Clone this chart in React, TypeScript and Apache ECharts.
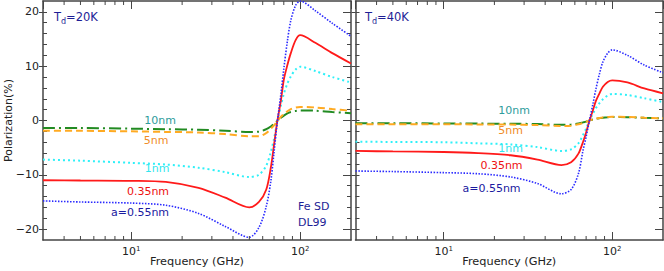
import React, { useEffect, useRef } from 'react';
import * as echarts from 'echarts';

// ---- data ----
const FREQ = [3, 5, 10, 16, 25, 36, 50, 57, 63, 67, 70, 73, 77, 80, 84, 88, 94, 100, 123, 155, 200];
const MINOR_FREQ = [4, 5, 6, 7, 8, 9, 20, 30, 40, 50, 60, 70, 80, 90];
const Y_MAJOR = [-20, -10, 0, 10, 20];
const Y_MINOR = [-20, -18, -16, -14, -12, -10, -8, -6, -4, -2, 0, 2, 4, 6, 8, 10, 12, 14, 16, 18, 20];
const X_MIN = 3;
const X_MAX = 200;
const Y_MIN = -22;
const Y_MAX = 22;

// Td = 20K
const T20_A055 = [-14.8, -15.0, -15.2, -15.6, -17.1, -19.5, -21.5, -19.7, -15.8, -11.2, -5.9, -0.6, 5.0, 9.5, 14.6, 18.4, 21.2, 22.0, 20.2, 17.9, 15.5];
const T20_A035 = [-11.0, -11.05, -11.1, -11.3, -12.4, -14.2, -16.0, -15.0, -12.7, -8.7, -4.5, -0.4, 3.8, 7.5, 10.2, 12.4, 14.8, 15.7, 14.3, 12.4, 10.5];
const T20_A1 = [-7.2, -7.4, -7.8, -8.1, -8.7, -9.5, -10.4, -10.0, -8.3, -5.8, -3.4, -0.4, 2.8, 4.9, 6.8, 8.1, 9.4, 9.9, 9.1, 8.0, 7.0];
const T20_A5 = [-1.9, -1.9, -2.0, -2.1, -2.2, -2.5, -2.9, -2.9, -2.3, -1.5, -0.9, -0.2, 0.7, 1.2, 1.7, 2.1, 2.4, 2.5, 2.4, 2.1, 1.8];
const T20_A10 = [-1.4, -1.4, -1.5, -1.6, -1.7, -1.9, -2.1, -2.05, -1.6, -1.1, -0.6, -0.1, 0.5, 0.9, 1.3, 1.55, 1.75, 1.85, 1.8, 1.55, 1.35];

// Td = 40K
const T40_A055 = [-9.3, -9.4, -9.6, -9.8, -10.4, -11.6, -13.5, -12.7, -9.8, -5.6, -3.0, -0.2, 3.2, 5.8, 8.6, 10.8, 12.4, 13.0, 12.0, 10.2, 8.8];
const T40_A035 = [-5.6, -5.7, -5.8, -6.0, -6.4, -7.2, -8.2, -7.7, -6.1, -4.0, -2.2, -0.2, 2.0, 3.6, 5.0, 6.2, 7.1, 7.4, 7.0, 5.9, 5.0];
const T40_A1 = [-3.9, -3.95, -4.0, -4.2, -4.4, -4.9, -5.6, -5.3, -4.2, -2.7, -1.5, -0.1, 1.3, 2.3, 3.2, 3.9, 4.6, 4.9, 4.7, 4.1, 3.4];
const T40_A5 = [-0.7, -0.7, -0.7, -0.72, -0.75, -0.85, -1.0, -0.95, -0.7, -0.45, -0.25, 0, 0.22, 0.35, 0.48, 0.57, 0.65, 0.7, 0.65, 0.5, 0.4];
const T40_A10 = [-0.5, -0.5, -0.55, -0.57, -0.6, -0.65, -0.8, -0.75, -0.55, -0.35, -0.2, 0, 0.2, 0.32, 0.43, 0.52, 0.6, 0.65, 0.6, 0.5, 0.4];

const LABEL_10 = '10nm';
const LABEL_5 = '5nm';
const LABEL_1 = '1nm';
const LABEL_035 = '0.35nm';
const LABEL_055 = 'a=0.55nm';

// ---- styles ----
const FONT = 'DejaVu Sans';
const AXIS_COLOR = '#454545';
const TEXT_COLOR = '#222222';
const NAVY = '#1e1e96';

const LINE_STYLES = {
  a055: { color: '#2a2aff', width: 1.6, type: [1.5, 1.5] as any },
  a035: { color: '#ff1a1a', width: 1.8, type: 'solid' as any },
  a1: { color: '#2ef0f8', width: 2, type: [2, 3] as any },
  a5: { color: '#ffaa22', width: 2, type: [7, 4] as any },
  a10: { color: '#228b22', width: 2, type: [12, 4, 2, 4] as any },
};

function xLabelFormatter(v: number) {
  const l = Math.log10(v);
  if (Math.abs(l - Math.round(l)) > 1e-6) return '';
  return `{b|10}{s|${Math.round(l)}}`;
}
function yLabelFormatter(v: number) {
  return v < 0 ? '\u2212' + Math.abs(v) : String(v);
}

function makeXAxes(gridIndex: number) {
  const common = {
    type: 'log' as const,
    logBase: 10,
    min: X_MIN,
    max: X_MAX,
    gridIndex,
    splitLine: { show: false },
    axisLine: { show: true, onZero: false, lineStyle: { color: AXIS_COLOR, width: 1.5 } },
    axisTick: { show: true, inside: true, length: 8, lineStyle: { color: AXIS_COLOR, width: 1 } },
  };
  return [
    {
      ...common,
      position: 'bottom',
      name: 'Frequency (GHz)',
      nameLocation: 'middle',
      nameGap: 16,
      nameMoveOverlap: false,
      nameTextStyle: { fontFamily: FONT, fontSize: 11.3, color: TEXT_COLOR },
      axisLabel: {
        show: true,
        margin: 5,
        formatter: xLabelFormatter,
        showMinLabel: false,
        showMaxLabel: false,
        rich: {
          b: { fontFamily: FONT, fontSize: 11, lineHeight: 12, color: TEXT_COLOR, verticalAlign: 'middle' },
          s: { fontFamily: FONT, fontSize: 7, lineHeight: 7, color: TEXT_COLOR, verticalAlign: 'top' },
        },
      },
    },
    {
      ...common,
      position: 'top',
      axisLabel: { show: false },
    },
  ];
}

function makeYAxes(gridIndex: number, withLabels: boolean) {
  const base = {
    type: 'value' as const,
    min: Y_MIN,
    max: Y_MAX,
    gridIndex,
    splitLine: { show: false },
  };
  return [
    {
      ...base,
      position: 'left',
      axisLine: { show: true, onZero: false, lineStyle: { color: AXIS_COLOR, width: 1.5 } },
      axisTick: { show: true, inside: false, length: 4, customValues: Y_MAJOR, lineStyle: { color: AXIS_COLOR, width: 1 } },
      axisLabel: {
        show: withLabels,
        customValues: Y_MAJOR,
        margin: 4,
        formatter: yLabelFormatter,
        fontFamily: FONT,
        fontSize: 11,
        color: TEXT_COLOR,
      },
      ...(withLabels
        ? {
            name: 'Polarization(%)',
            nameLocation: 'middle',
            nameGap: 29,
            nameMoveOverlap: false,
            nameTextStyle: { fontFamily: FONT, fontSize: 11, color: TEXT_COLOR },
          }
        : {}),
    },
    {
      ...base,
      position: 'left',
      axisLine: { show: false, onZero: false },
      axisTick: { show: true, inside: true, length: 4, customValues: Y_MINOR, lineStyle: { color: AXIS_COLOR, width: 1 } },
      axisLabel: { show: false },
    },
    {
      ...base,
      position: 'right',
      axisLine: { show: true, onZero: false, lineStyle: { color: AXIS_COLOR, width: 1.5 } },
      axisTick: { show: true, inside: true, length: 8, customValues: Y_MAJOR, lineStyle: { color: AXIS_COLOR, width: 1 } },
      axisLabel: { show: false },
    },
    {
      ...base,
      position: 'right',
      axisLine: { show: false, onZero: false },
      axisTick: { show: true, inside: true, length: 4, customValues: Y_MINOR, lineStyle: { color: AXIS_COLOR, width: 1 } },
      axisLabel: { show: false },
    },
  ];
}

function makeLine(name: string, values: number[], style: any, xAxisIndex: number, yAxisIndex: number) {
  return {
    type: 'line',
    name,
    xAxisIndex,
    yAxisIndex,
    data: FREQ.map((f, i) => [f, values[i]]),
    showSymbol: false,
    symbol: 'none',
    smooth: 0.3,
    lineStyle: { color: style.color, width: style.width, type: style.type },
    itemStyle: { color: style.color },
    silent: true,
  };
}

function minorTickSeries(xAxisIndex: number, yAxisIndex: number) {
  return {
    type: 'custom',
    xAxisIndex,
    yAxisIndex,
    silent: true,
    clip: false,
    z: 10,
    data: MINOR_FREQ.map((f) => [f, 0]),
    encode: { x: 0, y: 1 },
    renderItem: (_params: any, api: any) => {
      const f = api.value(0);
      const b = api.coord([f, Y_MIN]);
      const t = api.coord([f, Y_MAX]);
      const st = { stroke: AXIS_COLOR, lineWidth: 1 };
      return {
        type: 'group',
        children: [
          { type: 'line', shape: { x1: b[0], y1: b[1], x2: b[0], y2: b[1] - 4 }, style: st },
          { type: 'line', shape: { x1: t[0], y1: t[1], x2: t[0], y2: t[1] + 4 }, style: st },
        ],
      };
    },
  };
}

function label(text: string, x: number, y: number, color: string) {
  return {
    type: 'text',
    x,
    y,
    silent: true,
    z: 20,
    style: {
      text,
      fill: color,
      fontFamily: FONT,
      fontSize: 11,
      align: 'center',
      verticalAlign: 'middle',
      textAlign: 'center',
      textVerticalAlign: 'middle',
    },
  };
}

function tdLabel(temp: string, x: number, y: number) {
  return {
    type: 'text',
    x,
    y,
    silent: true,
    z: 20,
    style: {
      text: `{a|T}{b|d}{a|=${temp}}`,
      fill: NAVY,
      fontFamily: FONT,
      fontSize: 11.5,
      align: 'left',
      verticalAlign: 'middle',
      textAlign: 'left',
      textVerticalAlign: 'middle',
      rich: {
        a: { fontFamily: FONT, fontSize: 11.5, lineHeight: 16, verticalAlign: 'middle', fill: NAVY },
        b: { fontFamily: FONT, fontSize: 8, lineHeight: 8, verticalAlign: 'bottom', fill: NAVY },
      },
    },
  };
}

export default function App() {
  const ref = useRef<HTMLDivElement>(null);

  useEffect(() => {
    document.body.style.margin = '0';
    if (!ref.current) return;
    const chart = echarts.init(ref.current, undefined, { renderer: 'svg' });

    const option: any = {
      animation: false,
      backgroundColor: '#ffffff',
      textStyle: { fontFamily: FONT },
      grid: [
        { left: 43, top: 1, width: 308, height: 239, containLabel: false, outerBoundsMode: 'none' },
        { left: 355.5, top: 1, width: 307.5, height: 239, containLabel: false, outerBoundsMode: 'none' },
      ],
      xAxis: [...makeXAxes(0), ...makeXAxes(1)],
      yAxis: [...makeYAxes(0, true), ...makeYAxes(1, false)],
      series: [
        makeLine(LABEL_10, T20_A10, LINE_STYLES.a10, 0, 0),
        makeLine(LABEL_5, T20_A5, LINE_STYLES.a5, 0, 0),
        makeLine(LABEL_1, T20_A1, LINE_STYLES.a1, 0, 0),
        makeLine(LABEL_035, T20_A035, LINE_STYLES.a035, 0, 0),
        makeLine(LABEL_055, T20_A055, LINE_STYLES.a055, 0, 0),
        makeLine(LABEL_10, T40_A10, LINE_STYLES.a10, 2, 4),
        makeLine(LABEL_5, T40_A5, LINE_STYLES.a5, 2, 4),
        makeLine(LABEL_1, T40_A1, LINE_STYLES.a1, 2, 4),
        makeLine(LABEL_035, T40_A035, LINE_STYLES.a035, 2, 4),
        makeLine(LABEL_055, T40_A055, LINE_STYLES.a055, 2, 4),
        minorTickSeries(0, 0),
        minorTickSeries(2, 4),
      ],
      graphic: [
        tdLabel('20K', 54, 17),
        tdLabel('40K', 365, 17),
        label(LABEL_10, 160, 120, '#2e9c9c'),
        label(LABEL_5, 156, 140, '#f08c28'),
        label(LABEL_1, 157, 168, '#33e6ee'),
        label(LABEL_035, 148, 191.5, '#ee1111'),
        label(LABEL_055, 140, 212, '#1a1aa0'),
        label(LABEL_10, 514, 110.5, '#2e9c9c'),
        label(LABEL_5, 510.5, 130.5, '#f08c28'),
        label(LABEL_1, 510.5, 148, '#33e6ee'),
        label(LABEL_035, 501.5, 165.5, '#ee1111'),
        label(LABEL_055, 491.5, 188, '#1a1aa0'),
        {
          type: 'text',
          x: 298,
          y: 206,
          silent: true,
          z: 20,
          style: { text: 'Fe SD', fill: NAVY, fontFamily: FONT, fontSize: 11, align: 'left', verticalAlign: 'middle', textAlign: 'left', textVerticalAlign: 'middle' },
        },
        {
          type: 'text',
          x: 298,
          y: 222.5,
          silent: true,
          z: 20,
          style: { text: 'DL99', fill: NAVY, fontFamily: FONT, fontSize: 11, align: 'left', verticalAlign: 'middle', textAlign: 'left', textVerticalAlign: 'middle' },
        },
      ],
    };

    chart.setOption(option);
    return () => chart.dispose();
  }, []);

  return <div ref={ref} style={{ width: 664, height: 271 }} />;
}
